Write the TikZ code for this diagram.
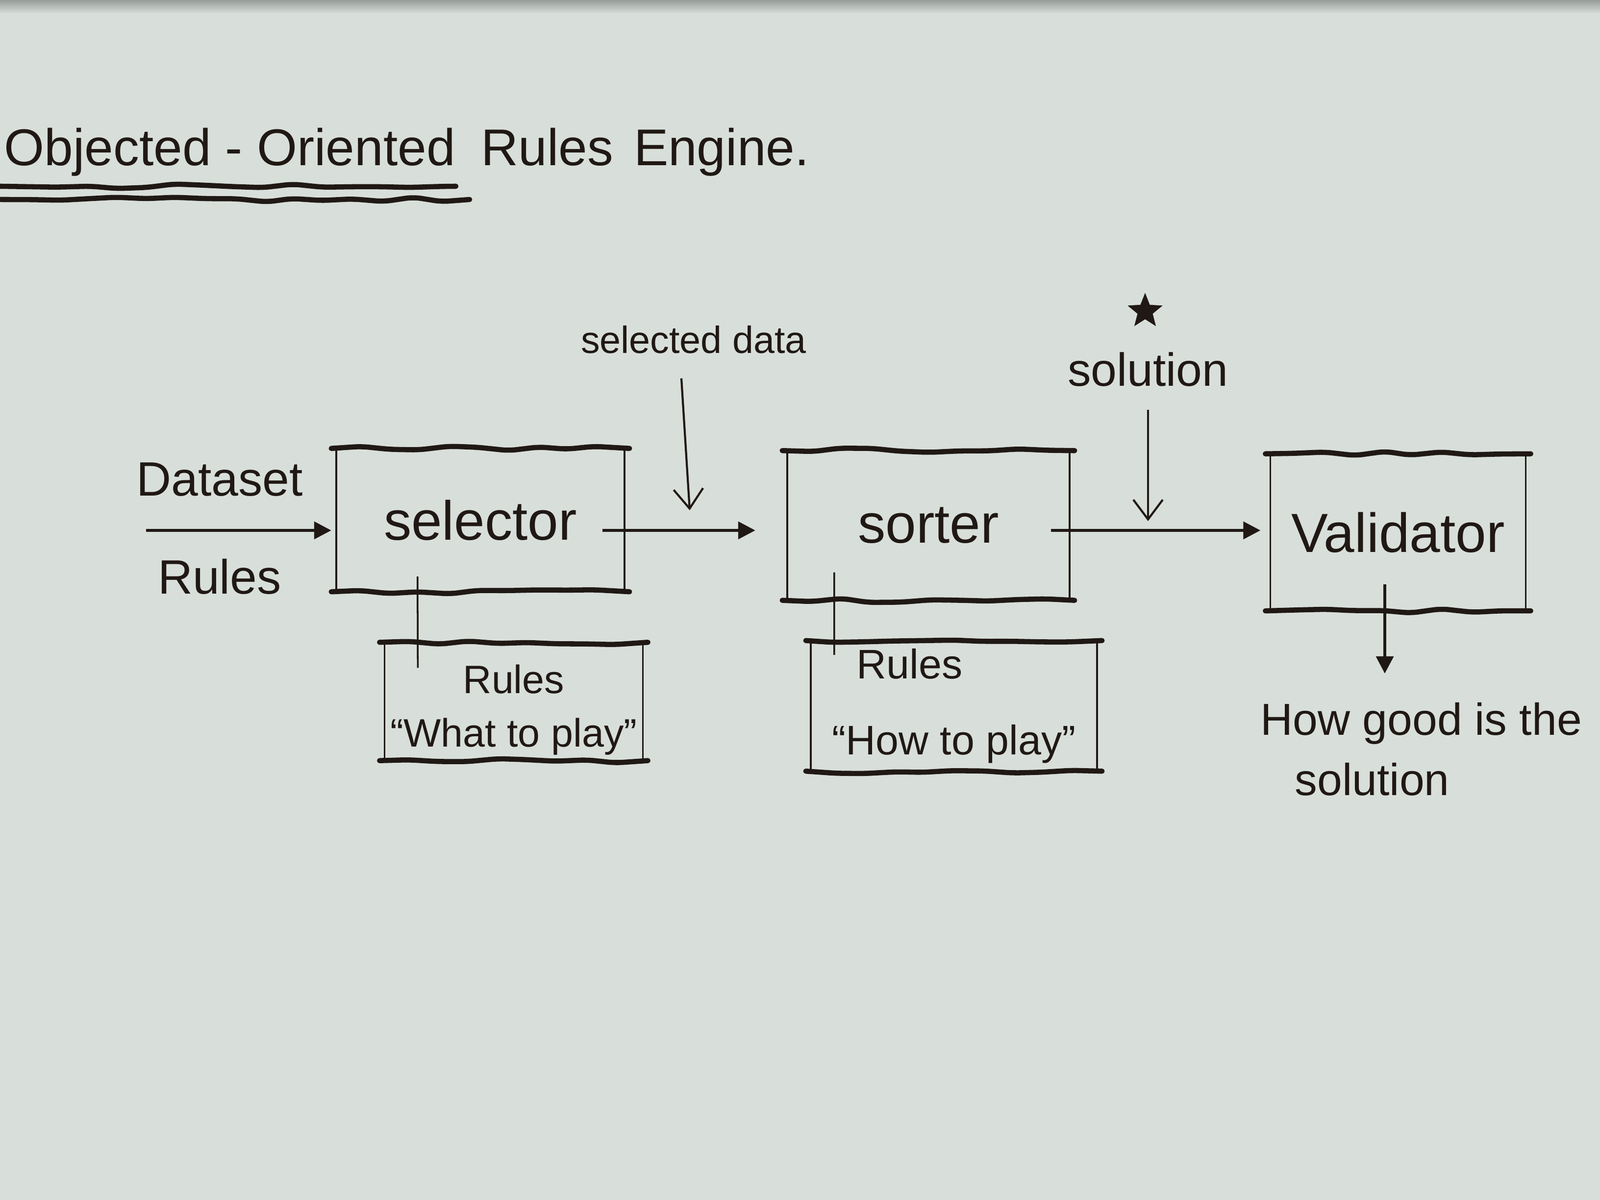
\documentclass[tikz,border=0pt]{standalone}
\usepackage{fontspec}
\setmainfont{Liberation Sans}
\usetikzlibrary{arrows.meta,calc,decorations.pathmorphing,shapes.geometric}

\definecolor{paper}{RGB}{216,223,218}
\definecolor{ink}{RGB}{32,24,20}

\begin{document}
\begin{tikzpicture}[
  every node/.style={text=ink},
  block/.style={inner sep=0pt, font=\fontsize{32}{38}\selectfont},
  side/.style={ink, line width=1pt},
  lid/.style={ink, line width=3pt, line cap=round, rounded corners=1.5mm,
    decorate, decoration={random steps,segment length=6mm,amplitude=.5mm}},
  flow/.style={ink, line width=1.8pt, -{Triangle[length=3.5mm,width=3.5mm]}},
  feed/.style={ink, line width=1.2pt, -{Straight Barb[length=4mm,width=6mm]}},
  link/.style={ink, line width=1pt},
]

\useasboundingbox (0,0) rectangle (32.64,24.48);
\fill[paper] (0,0) rectangle (32.64,24.48);
\shade[top color=paper!70!black, bottom color=paper] (0,24.2) rectangle (32.64,24.48);

% title
\node[anchor=base west, inner sep=0pt, font=\fontsize{30}{36}\selectfont] (title) at (0.08,21.1)
  {Objected - Oriented\hspace{.5em}Rules\hspace{.4em}Engine.};
\draw[lid] ([xshift=-0.08cm,yshift=-0.42cm]title.base west) -- +(9.3,0);
\draw[lid] ([xshift=-0.08cm,yshift=-0.69cm]title.base west) -- +(9.58,0);

% main boxes
\node[block, minimum width=5.87cm, minimum height=2.91cm] (selector) at (9.80,13.87) {selector};
\node[block, minimum width=5.75cm, minimum height=3.04cm] (sorter) at (18.94,13.76) {sorter};
\node[block, minimum width=5.2cm, minimum height=3.19cm] (validator) at (28.52,13.62) {Validator};

% rule boxes
\node[block, minimum width=5.26cm, minimum height=2.4cm, align=center,
  font=\fontsize{23}{31}\selectfont] (rulesA) at (10.48,10.0) {Rules\\``What to play''};
\node[block, minimum width=5.83cm, minimum height=2.65cm, align=left,
  font=\fontsize{24}{44}\selectfont] (rulesB) at (19.46,10.08) {\hspace{0.5cm}Rules\\``How to play''};

\foreach \b in {selector,sorter,validator,rulesB}{
  \draw[side] (\b.north west) -- (\b.south west) (\b.north east) -- (\b.south east);
  \draw[lid] ([xshift=-1mm]\b.north west) -- ([xshift=1mm]\b.north east);
  \draw[lid] ([xshift=-1mm]\b.south west) -- ([xshift=1mm]\b.south east);
}
% rulesA text sits low, so its frame is drawn from the lifted box
\draw[side] ([yshift=1.7mm]rulesA.north west) -- ([yshift=1.7mm]rulesA.south west)
  ([yshift=1.7mm]rulesA.north east) -- ([yshift=1.7mm]rulesA.south east);
\draw[lid] ([shift={(-1mm,1.7mm)}]rulesA.north west) -- ([shift={(1mm,1.7mm)}]rulesA.north east);
\draw[lid] ([shift={(-1mm,1.7mm)}]rulesA.south west) -- ([shift={(1mm,1.7mm)}]rulesA.south east);

% inputs
\node[font=\fontsize{28}{34}\selectfont] (dataset) at (4.48,14.70) {Dataset};
\node[font=\fontsize{28}{34}\selectfont] (rulesIn) at (4.48,12.72) {Rules};
\coordinate (in) at (2.98,13.66);
\draw[flow, shorten >=1mm] (in) -- (in -| selector.west);

\node[font=\fontsize{22}{26}\selectfont] (seldata) at (14.15,17.55) {selected data};
\coordinate (seltip) at (14.07,14.07);
\draw[feed] ([xshift=-2.5mm,yshift=-3.8mm]seldata.south) -- (seltip);

\node[star, star points=5, star point ratio=2.3, fill=ink, minimum size=0.75cm, inner sep=0pt] (star) at (23.36,18.13) {};
\node[font=\fontsize{27}{32}\selectfont] (solution) at (23.42,16.94) {solution};
\coordinate (soltip) at (23.42,13.85);
\draw[feed] ([yshift=-3.5mm]solution.south) -- (soltip);

% flow between boxes
\draw[flow, shorten >=6.5mm] ([xshift=-4.5mm]selector.east |- in) -- (sorter.west |- in);
\draw[flow, shorten >=2mm] ([xshift=-3.8mm]sorter.east |- in) -- (validator.west |- in);

\draw[link] ($(selector.south west)+(1.66,0.31)$) -- ($(rulesA.north west)+(0.68,-0.35)$);
\draw[link] ($(sorter.south west)+(0.96,0.57)$) -- ($(rulesB.north west)+(0.48,-0.29)$);

% output
\node[anchor=north west, inner sep=0pt, align=left, font=\fontsize{26}{35}\selectfont] (quality) at (25.71,10.15)
  {How good is the\\\hspace{0.7cm}solution};
\coordinate (verdict) at (28.25,10.74);
\draw[flow] ($(validator.south -| verdict)+(0,0.54)$) -- (verdict);

\end{tikzpicture}
\end{document}
